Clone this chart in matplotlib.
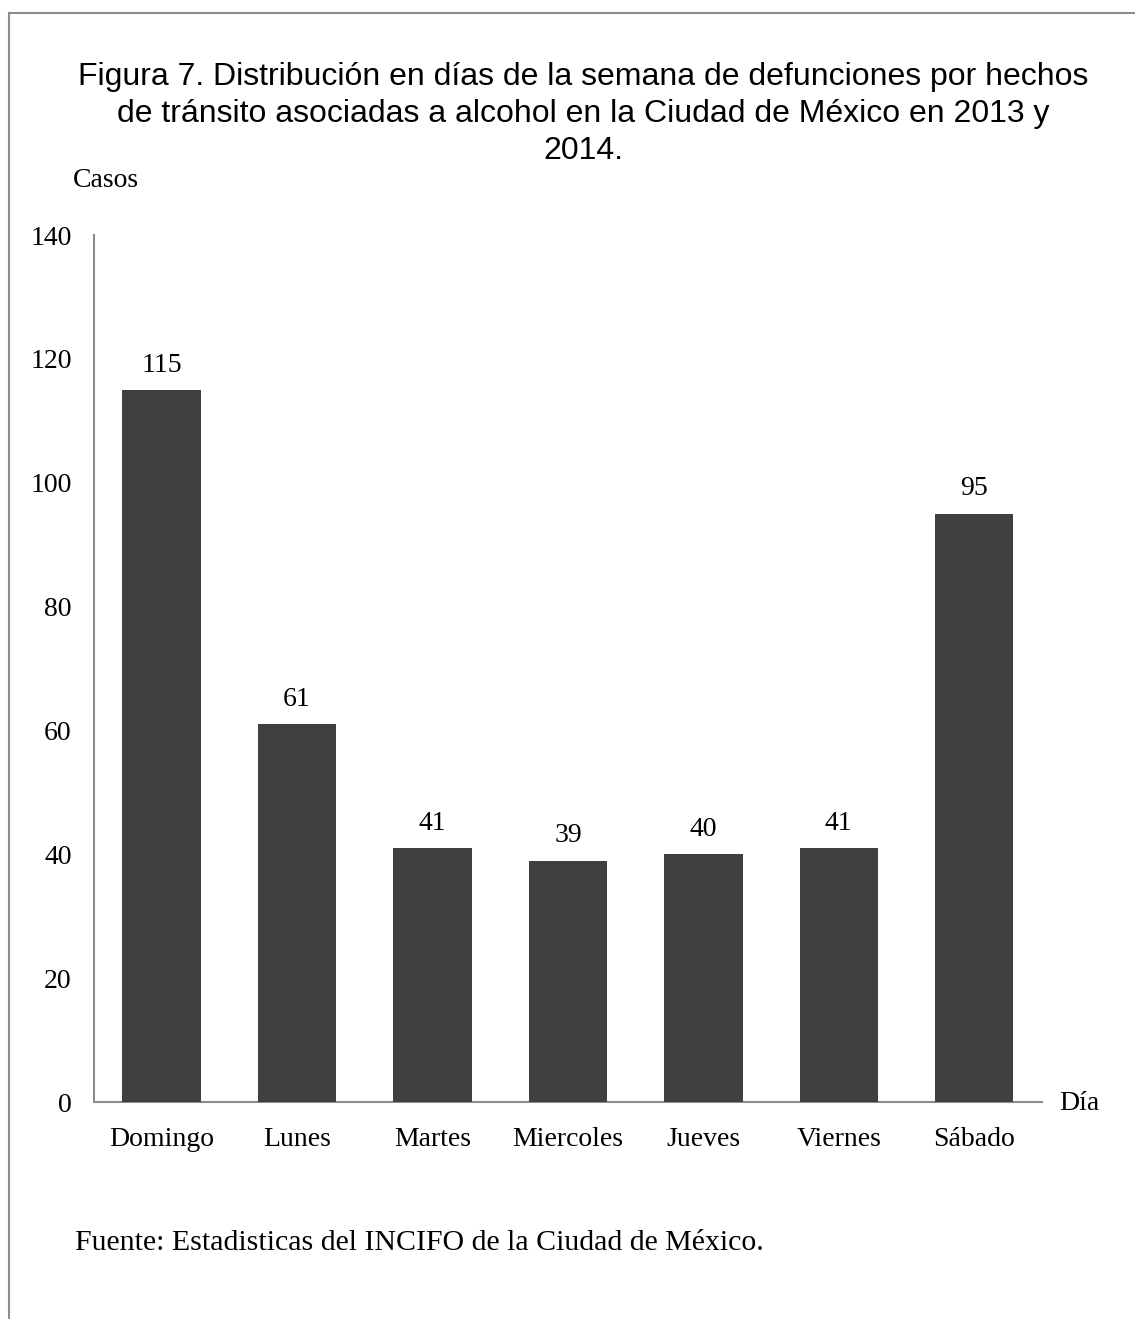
import matplotlib.pyplot as plt
from matplotlib.lines import Line2D

# casos por día de la semana
dias = ['Domingo', 'Lunes', 'Martes', 'Miercoles', 'Jueves', 'Viernes', 'Sábado']
casos = [115, 61, 41, 39, 40, 41, 95]
yticks = [0, 20, 40, 60, 80, 100, 120, 140]

titulo = ('Figura 7. Distribución en días de la semana de defunciones por hechos\n'
          'de tránsito asociadas a alcohol en la Ciudad de México en 2013 y\n'
          '2014.')
fuente = 'Fuente: Estadisticas del INCIFO de la Ciudad de México.'

serif = 'Liberation Serif'
fsize = 20

fig = plt.figure(figsize=(11.35, 13.19), dpi=100)
ax = fig.add_axes([0.0828, 0.1645, 0.8352, 0.6573])

x = range(len(dias))
ax.bar(x, casos, width=0.58, color='#404040', zorder=3)
for xi, v in zip(x, casos):
    ax.text(xi, v + 4.0, str(v), ha='center', va='center',
            family=serif, fontsize=fsize)

ax.set_xlim(-0.5, len(dias) - 0.5)
ax.set_ylim(0, 140)
ax.set_yticks(yticks)
ax.set_yticklabels([str(t) for t in yticks], family=serif, fontsize=fsize)
ax.set_xticks(list(x))
ax.set_xticklabels(dias, family=serif, fontsize=fsize)
ax.tick_params(length=0)
ax.tick_params(axis='y', pad=16)
ax.tick_params(axis='x', pad=18)
for s in ['top', 'right']:
    ax.spines[s].set_visible(False)
for s in ['left', 'bottom']:
    ax.spines[s].set_color('#8c8c8c')
    ax.spines[s].set_linewidth(1.5)

fig.text(0.5137, 0.9135, titulo, ha='center', va='center',
         family='Liberation Sans', fontsize=23, linespacing=1.29)
fig.text(0.0643, 0.8628, 'Casos', ha='left', va='center',
         family=serif, fontsize=fsize)
fig.text(0.9335, 0.1633, 'Día', ha='left', va='center',
         family=serif, fontsize=fsize)
fig.text(0.0661, 0.0576, fuente, ha='left', va='center',
         family=serif, fontsize=21.5)

# marco exterior
fig.add_artist(Line2D([0.0075, 0.0075], [0.0, 0.9905], color='#8c8c8c',
                      lw=1.5, transform=fig.transFigure))
fig.add_artist(Line2D([0.0075, 1.0], [0.9905, 0.9905], color='#8c8c8c',
                      lw=1.5, transform=fig.transFigure))

fig.savefig('out.png', dpi=100)
